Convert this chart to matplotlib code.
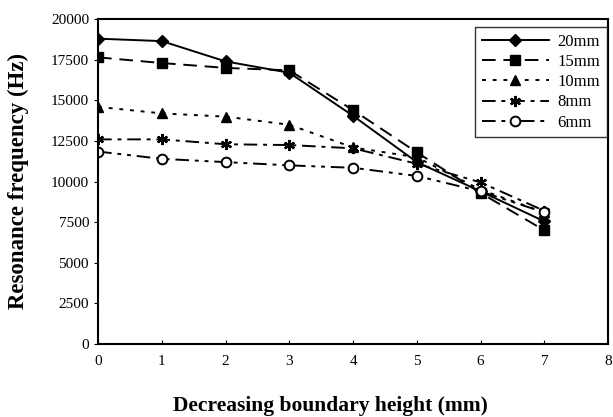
import numpy as np
import matplotlib
matplotlib.use("Agg")
import matplotlib.pyplot as plt

plt.rcParams['font.family'] = ['Liberation Serif', 'DejaVu Serif']

heights = [0, 1, 2, 3, 4, 5, 6, 7]
f20 = [18800, 18650, 17400, 16700, 14050, 11200, 9400, 7550]
f15 = [17650, 17300, 17000, 16850, 14400, 11800, 9300, 7000]
f10 = [14600, 14200, 14000, 13500, 12100, 11500, 9500, 8100]
f8 = [12600, 12600, 12300, 12250, 12050, 11100, 9950, 8200]
f6 = [11850, 11400, 11200, 11000, 10850, 10350, 9400, 8100]

fig = plt.figure(figsize=(6.13, 4.17), dpi=100)
ax = fig.add_axes([0.16, 0.175, 0.832, 0.779])

ax.plot(heights, f20, color='black', lw=1.4, ls='-', marker='D', ms=6, label='20mm')
ax.plot(heights, f15, color='black', lw=1.4, ls=(0, (7, 4)), marker='s', ms=7, label='15mm')
ax.plot(heights, f10, color='black', lw=1.4, ls=(0, (2, 3.5)), marker='^', ms=7, label='10mm')
ax.plot(heights, f8, color='black', lw=1.4, ls=(0, (7, 3, 2, 3)), marker=(6, 2, 0), ms=8, mew=1.6, label='8mm')
ax.plot(heights, f6, color='black', lw=1.4, ls=(0, (7, 3, 2, 3, 2, 3)), marker='o', ms=7,
        mfc='white', mew=1.4, label='6mm')

ax.set_xlim(0, 8)
ax.set_ylim(0, 20000)
ax.set_xticks(np.arange(0, 9, 1))
ax.set_yticks(np.arange(0, 20001, 2500))
ax.tick_params(axis='x', direction='in', length=3, pad=8, labelsize=11)
ax.tick_params(axis='y', direction='out', length=3, labelsize=11)
for s in ax.spines.values():
    s.set_linewidth(1.5)

fig.text(330 / 613, 1 - 406 / 417, 'Decreasing boundary height (mm)', fontsize=15.5,
         fontweight='bold', ha='center', va='center')
fig.text(18 / 613, 1 - 181 / 417, 'Resonance frequency (Hz)', fontsize=16.5,
         fontweight='bold', ha='center', va='center', rotation=90)

leg = ax.legend(loc='upper right', fontsize=12, frameon=True, fancybox=False, edgecolor='black',
                handlelength=4, borderpad=0.4, labelspacing=0.25, handletextpad=0.5,
                borderaxespad=0, bbox_to_anchor=(0.997, 0.975))
leg.get_frame().set_linewidth(1.0)

fig.savefig('out.png', dpi=100)
